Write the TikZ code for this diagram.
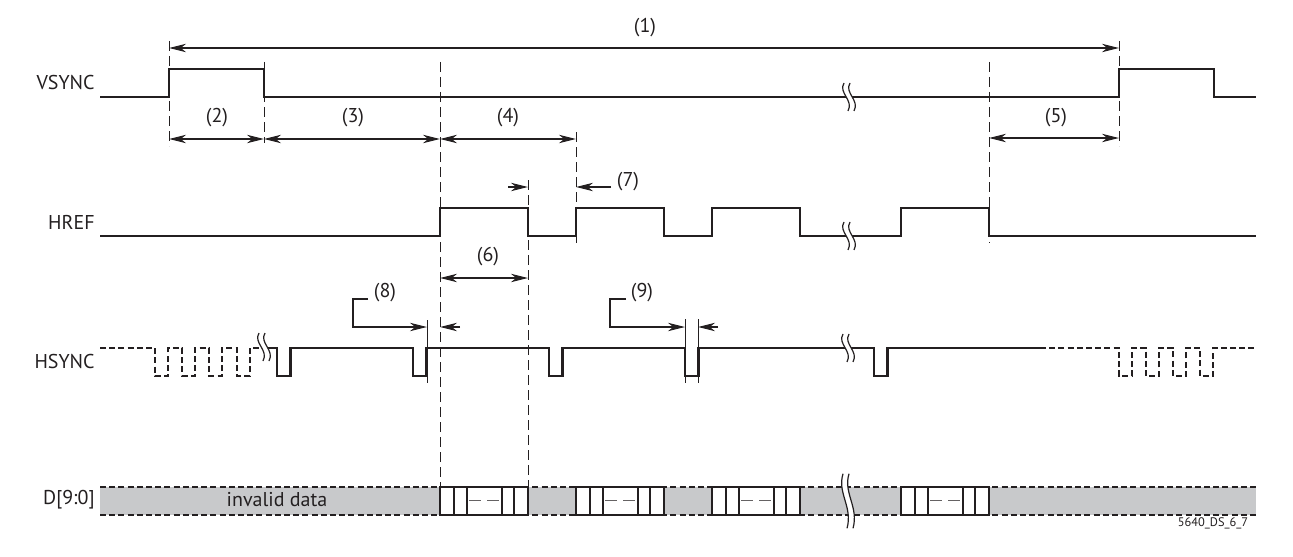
\documentclass[tikz,border=0pt]{standalone}
\usepackage{fontspec}
\setmainfont{PT Sans}
\usetikzlibrary{arrows.meta}
\definecolor{ink}{HTML}{231F20}
\definecolor{datagray}{HTML}{C8C9CB}
\tikzset{
  sig/.style={line width=1.4pt, draw=ink, line join=miter},
  sigdash/.style={line width=1pt, draw=ink, dash pattern=on 3pt off 1.6pt},
  guide/.style={line width=0.5pt, draw=ink, dash pattern=on 5pt off 2.5pt},
  tick/.style={line width=0.5pt, draw=ink},
  dim/.style={line width=0.55pt, draw=ink, >={Stealth[length=8.5pt,width=4.2pt,inset=2.6pt]}},
  lbl/.style={text=ink, font=\fontsize{10}{12}\selectfont, inner sep=0pt},
  brk/.pic={
    \fill[white] (-4,-14) .. controls (-10,-4) and (6,3) .. (0,14) -- (6,14) .. controls (12,3) and (-4,-4) .. (2,-14) -- cycle;
    \draw[line width=0.6pt, draw=ink] (-4,-14) .. controls (-10,-4) and (6,3) .. (0,14);
    \draw[line width=0.6pt, draw=ink] (2,-14) .. controls (-4,-4) and (12,3) .. (6,14);
  }
}
\begin{document}
\begin{tikzpicture}[x=0.5pt, y=-0.5pt]
\useasboundingbox (0,0) rectangle (1293,556);

% signal names
\node (vsync) [lbl, anchor=east] at (95,83) {VSYNC};
\node (href) [lbl, anchor=east] at (95,222) {HREF};
\node (hsync) [lbl, anchor=east] at (95,361) {HSYNC};
\node (data) [lbl, anchor=east] at (95,500) {D[9:0]};

% data bus
\fill[datagray] (100,487) rectangle (1256,515);
\draw[sigdash] (100,487) -- (1256,487);
\draw[sigdash] (100,515) -- (1256,515);
\node (invalid) [lbl] at (277,500) {invalid data};
\foreach \x in {440,576,712,901} {
  \draw[sig, fill=white] (\x,487) rectangle +(88,28);
  \draw[sig] (\x+14,487) -- +(0,28) (\x+27,487) -- +(0,28)
             (\x+62,487) -- +(0,28) (\x+74,487) -- +(0,28);
  \draw[line width=0.5pt, draw=ink!70, dash pattern=on 6pt off 3pt] (\x+29,500) -- (\x+60,500);
}

% guide lines
\draw[guide] (169,41) -- (169,146);
\draw[guide] (264,62) -- (264,143);
\draw[guide] (440,62) -- (440,487);
\draw[guide] (528,180) -- (528,487);
\draw[guide] (576,132) -- (576,243);
\draw[guide] (989,62) -- (989,243);
\draw[guide] (1119,41) -- (1119,146);
\draw[tick] (427,320) -- (427,383);
\draw[tick] (685,319) -- (685,383);
\draw[tick] (698,319) -- (698,383);

% VSYNC
\draw[sig] (100,97) -- (169,97) -- (169,69) -- (264,69) -- (264,97) -- (1119,97)
  -- (1119,69) -- (1214,69) -- (1214,97) -- (1256,97);

% HREF
\draw[sig] (100,236) -- (440,236)
  foreach \x in {440,576,712,901} {-- (\x,236) -- (\x,208) -- (\x+88,208) -- (\x+88,236)}
  -- (1256,236);

% HSYNC
\draw[sigdash] (100,348)
  foreach \x in {155,182,209,237} {-- (\x,348) -- (\x,376) -- (\x+13,376) -- (\x+13,348)}
  -- (263,348);
\draw[sig] (263,348)
  foreach \x in {277,413,549,685,874} {-- (\x,348) -- (\x,376) -- (\x+13.5,376) -- (\x+13.5,348)}
  -- (1040,348);
\draw[sigdash] (1040,348)
  foreach \x in {1119,1146,1173,1200} {-- (\x,348) -- (\x,376) -- (\x+13,376) -- (\x+13,348)}
  -- (1255,348);

% breaks
\pic at (848,97) {brk};
\pic at (848,236) {brk};
\pic at (263,347) {brk};
\pic at (847,348) {brk};
\pic[yscale=1.95] at (847,501) {brk};

% timing parameters
\coordinate (a1) at (169,48);
\coordinate (b1) at (1119,48);
\draw[dim, <->] (a1) -- (b1);
\node (p1) [lbl] at (645,28) {(1)};

\coordinate (a2) at (169,139);
\coordinate (b2) at (264,139);
\coordinate (b3) at (440,139);
\coordinate (b4) at (576,139);
\draw[dim, <->] (a2) -- (b2);
\draw[dim, <->] (b2) -- (b3);
\draw[dim, <->] (b3) -- (b4);
\node (p2) [lbl] at (217,118) {(2)};
\node (p3) [lbl] at (353,118) {(3)};
\node (p4) [lbl] at (508,118) {(4)};

\coordinate (a5) at (989,138);
\coordinate (b5) at (1119,138);
\draw[dim, <->] (a5) -- (b5);
\node (p5) [lbl] at (1056,118) {(5)};

\coordinate (a6) at (440,278);
\coordinate (b6) at (528,278);
\draw[dim, <->] (a6) -- (b6);
\node (p6) [lbl] at (488,257) {(6)};

\coordinate (a7) at (508,187);
\coordinate (b7) at (528,187);
\coordinate (c7) at (611,187);
\coordinate (d7) at (576,187);
\draw[dim, ->] (a7) -- (b7);
\draw[dim, ->] (c7) -- (d7);
\node (p7) [lbl] at (628,182) {(7)};

\node (p8) [lbl] at (385,293) {(8)};
\coordinate (a8) at (368,299);
\coordinate (b8) at (427,327);
\coordinate (c8) at (460,327);
\coordinate (d8) at (440,327);
\draw[dim, ->] (a8) -- (353,299) |- (b8);
\draw[dim, ->] (c8) -- (d8);

\node (p9) [lbl] at (642,293) {(9)};
\coordinate (a9) at (626,299);
\coordinate (b9) at (685,327);
\coordinate (c9) at (718,327);
\coordinate (d9) at (698,327);
\draw[dim, ->] (a9) -- (610,299) |- (b9);
\draw[dim, ->] (c9) -- (d9);

\node (fig) [lbl, font=\fontsize{6.2}{7}\selectfont] at (1213,523) {5640\_DS\_6\_7};
\end{tikzpicture}
\end{document}
